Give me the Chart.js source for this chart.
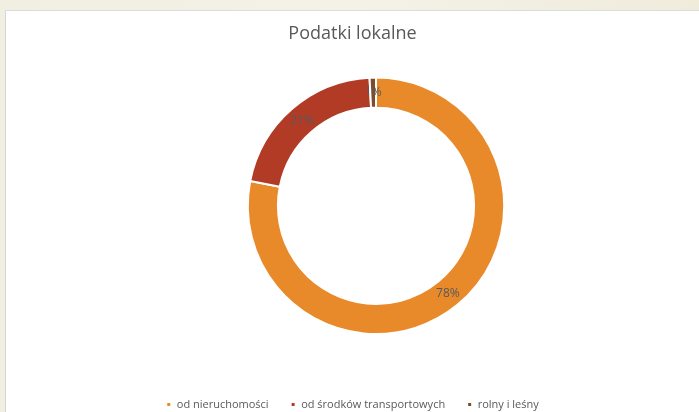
<!DOCTYPE html>
<html><head><meta charset="utf-8">
<script src="https://cdn.jsdelivr.net/npm/chart.js@4.4.1/dist/chart.umd.min.js"></script>
<style>
html,body{margin:0;padding:0;width:699px;height:412px;overflow:hidden;background:linear-gradient(90deg,#f1efe1 0%,#f4f2e7 50%,#efecdc 100%);}
#wrap{position:absolute;left:5px;top:10px;width:694px;height:410px;background:#fff;border-left:1px solid #d6d6d6;border-top:1px solid #dcdcdc;box-sizing:border-box;}
canvas{display:block}
</style></head><body>
<div id="wrap"><canvas id="c" width="693" height="409"></canvas></div>
<script>
const title = 'Podatki lokalne';
const categories = ['od nieruchomości', 'od środków transportowych', 'rolny i leśny'];
const values = [78.1, 21.1, 0.8];
const colors = ['#E8892A', '#B23B26', '#7D4C2B'];

const shiftPlugin = {
  id: 'shift',
  afterLayout(chart) {
    const a = chart.chartArea;
    a.left += 47;
    a.bottom -= 42;
    a.width = a.right - a.left;
    a.height = a.bottom - a.top;
  }
};
const labelPlugin = {
  id: 'pctLabels',
  afterDatasetsDraw(chart) {
    const ctx = chart.ctx;
    const meta = chart.getDatasetMeta(0);
    const data = chart.data.datasets[0].data;
    const total = data.reduce((s, v) => s + v, 0);
    ctx.save();
    ctx.font = '12px "Open Sans", sans-serif';
    ctx.fillStyle = '#595959';
    ctx.textAlign = 'center';
    ctx.textBaseline = 'middle';
    meta.data.forEach((arc, i) => {
      const p = arc.tooltipPosition();
      ctx.fillText(Math.round(data[i] / total * 100) + '%', p.x, p.y);
    });
    ctx.restore();
  }
};

new Chart(document.getElementById('c'), {
  type: 'doughnut',
  data: {
    labels: categories,
    datasets: [{
      data: values,
      backgroundColor: colors,
      borderColor: '#ffffff',
      borderWidth: 2,
      hoverOffset: 0
    }]
  },
  options: {
    responsive: false,
    animation: false,
    cutout: '76.5%',
    plugins: {
      title: {
        display: true,
        text: title,
        color: '#595959',
        font: { family: '"Open Sans", sans-serif', size: 18, weight: 'normal' },
        padding: { top: 12, bottom: 32 }
      },
      legend: {
        position: 'bottom',
        labels: {
          boxWidth: 5,
          boxHeight: 5,
          padding: 22,
          color: '#595959',
          font: { family: '"Open Sans", sans-serif', size: 11 }
        }
      },
      tooltip: { enabled: false }
    }
  },
  plugins: [shiftPlugin, labelPlugin]
});
</script>
</body></html>
